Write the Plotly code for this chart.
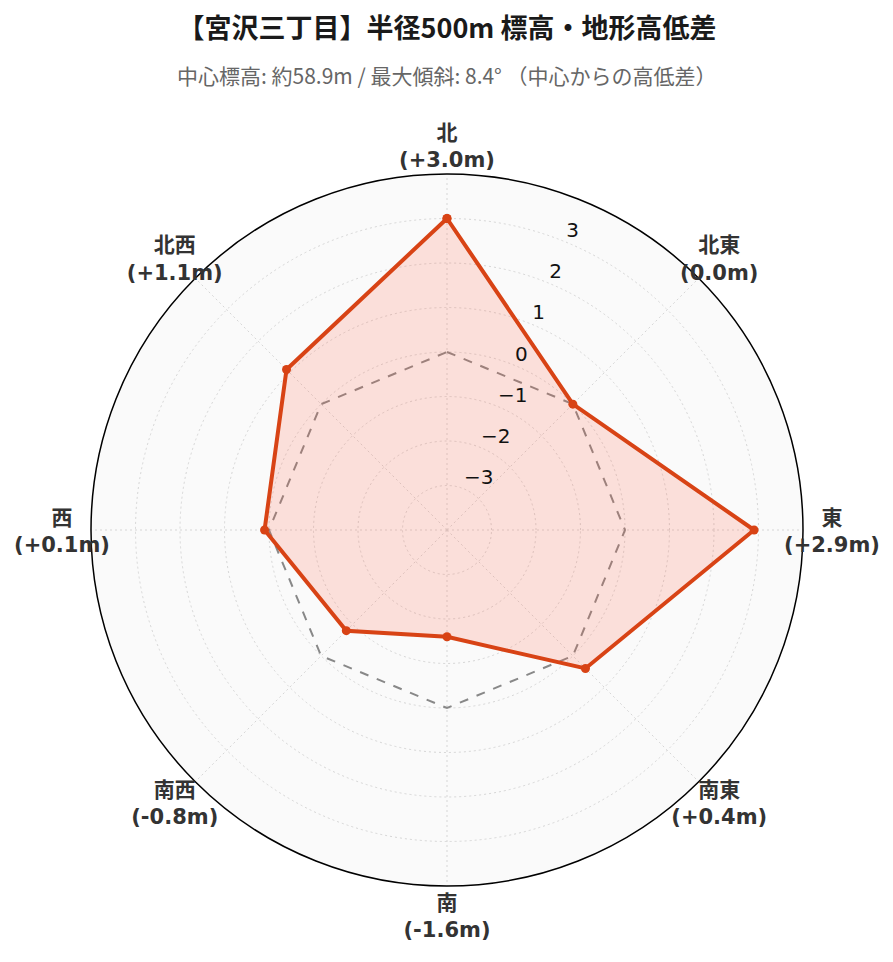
import plotly.graph_objects as go

directions = ["北", "北東", "東", "南東", "南", "南西", "西", "北西"]
diffs = [3.0, 0.0, 2.9, 0.4, -1.6, -0.8, 0.1, 1.1]
diff_labels = ["+3.0m", "0.0m", "+2.9m", "+0.4m", "-1.6m", "-0.8m", "+0.1m", "+1.1m"]
zero_line = [0, 0, 0, 0, 0, 0, 0, 0]
radial_ticks = [-3, -2, -1, 0, 1, 2, 3]
radial_ticktext = ["−3", "−2", "−1", "0", "1", "2", "3"]

title_text = "<b>【宮沢三丁目】半径500m 標高・地形高低差</b>"
subtitle_text = "中心標高: 約58.9m / 最大傾斜: 8.4° （中心からの高低差）"

label_text = [f"<b>{d}<br>({l})</b>" for d, l in zip(directions, diff_labels)]

W, H = 893, 962
CX, CY, R = 439, 522, 356          # polar centre / radius in figure pixels
R2 = 400                           # outer (label) polar radius in pixels
LABEL_R = 385                      # label distance from centre in pixels
TICK_THETA = 22.5                  # radial tick label direction (deg clockwise from north)


def dom(cx, cy, r):
    return dict(x=[(cx - r) / W, (cx + r) / W], y=[(H - cy - r) / H, (H - cy + r) / H])


fig = go.Figure()
fig.add_trace(go.Scatterpolar(
    r=zero_line + [zero_line[0]],
    theta=directions + [directions[0]],
    mode="lines",
    line=dict(color="#888888", width=2, dash="dash"),
    hoverinfo="skip",
    showlegend=False,
))
fig.add_trace(go.Scatterpolar(
    r=diffs + [diffs[0]],
    theta=directions + [directions[0]],
    mode="lines+markers",
    fill="toself",
    fillcolor="rgba(255,99,71,0.18)",
    line=dict(color="#D84315", width=4),
    marker=dict(color="#D84315", size=9),
    showlegend=False,
))
# direction labels (outer ring)
fig.add_trace(go.Scatterpolar(
    r=[LABEL_R] * len(directions),
    theta=directions,
    mode="text",
    text=label_text,
    textposition="middle center",
    textfont=dict(size=21, color="#333333",
                  family="DejaVu Sans, Noto Sans CJK JP, sans-serif"),
    cliponaxis=False,
    hoverinfo="skip",
    showlegend=False,
    subplot="polar2",
))
# radial tick labels, placed on the radial scale of the main polar
fig.add_trace(go.Scatterpolar(
    r=radial_ticks,
    theta=[TICK_THETA] * len(radial_ticks),
    mode="text",
    text=radial_ticktext,
    textposition="top right",
    textfont=dict(size=20, color="#111111",
                  family="DejaVu Sans, sans-serif"),
    cliponaxis=False,
    hoverinfo="skip",
    showlegend=False,
    subplot="polar3",
))

fig.update_layout(
    width=W, height=H,
    margin=dict(l=0, r=0, t=0, b=0),
    paper_bgcolor="white",
    font=dict(family="DejaVu Sans, Noto Sans CJK JP, sans-serif", color="#333333"),
    title=dict(
        text=title_text, xref="paper", x=CX / W, xanchor="center",
        y=1 - 21 / H, yanchor="middle",
        font=dict(family="Noto Sans CJK JP", size=27, color="#1a1a1a"),
    ),
    annotations=[dict(
        text=subtitle_text, xref="paper", yref="paper", x=CX / W, y=1 - 67 / H,
        xanchor="center", yanchor="middle", showarrow=False,
        font=dict(family="Noto Sans CJK JP", size=21, color="#666666"),
    )],
    polar=dict(
        domain=dom(CX, CY, R),
        bgcolor="#fafafa",
        angularaxis=dict(
            direction="clockwise", rotation=90,
            showline=True, linecolor="black", linewidth=1.5,
            gridcolor="#d6d6d6", griddash="2px,3px",
            showticklabels=False,
            ticks="",
        ),
        radialaxis=dict(
            range=[-4, 4], angle=67.5,
            tickvals=radial_ticks,
            showticklabels=False,
            showline=False, ticks="",
            gridcolor="#d6d6d6", griddash="2px,3px",
        ),
    ),
    polar2=dict(
        domain=dom(CX, CY + 3, R2),
        bgcolor="rgba(0,0,0,0)",
        angularaxis=dict(direction="clockwise", rotation=90, visible=False),
        radialaxis=dict(range=[0, R2], visible=False),
    ),
    polar3=dict(
        domain=dom(CX, CY, R),
        bgcolor="rgba(0,0,0,0)",
        angularaxis=dict(type="linear", direction="clockwise", rotation=90,
                         visible=False),
        radialaxis=dict(range=[-4, 4], visible=False),
    ),
)

fig.write_html("out.html")
